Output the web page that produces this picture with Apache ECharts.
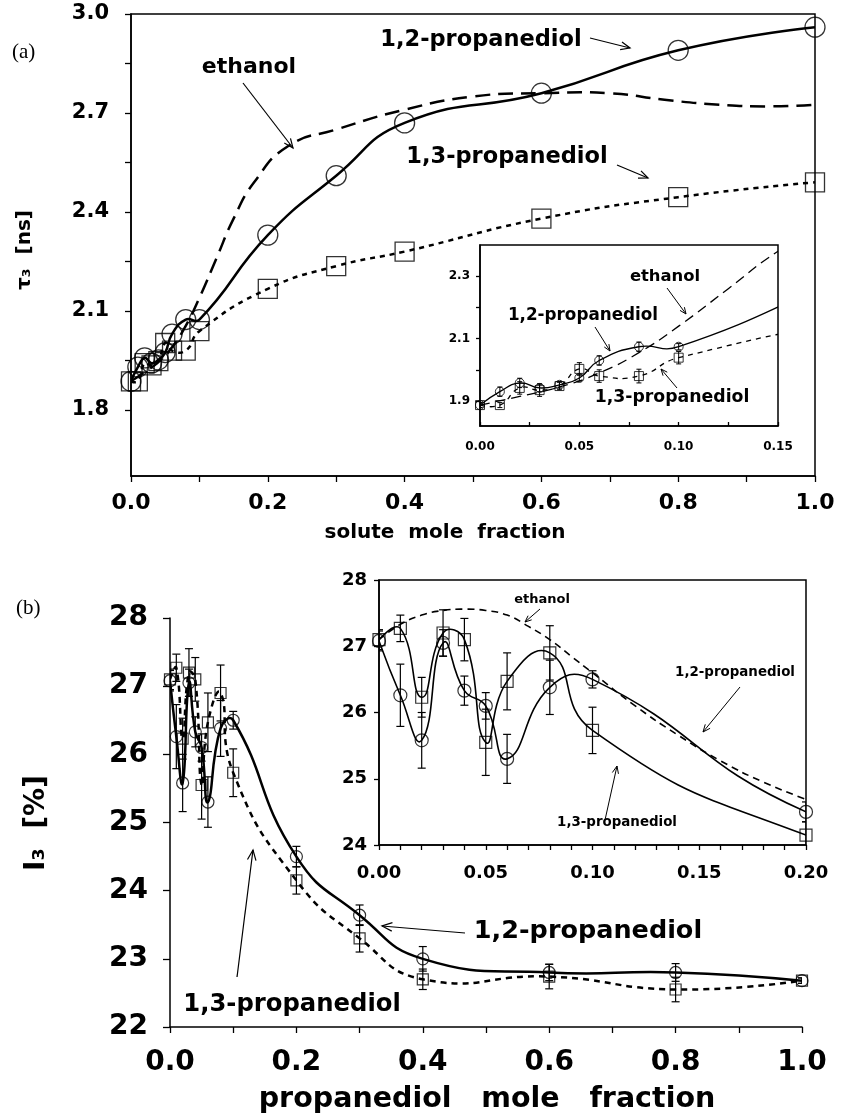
<!DOCTYPE html>
<html>
<head>
<meta charset="utf-8">
<title>tau3 / I3 vs mole fraction</title>
<script src="https://cdn.jsdelivr.net/npm/echarts@6/dist/echarts.min.js"></script>
<style>
  html, body { margin: 0; padding: 0; background: #fff; }
  #main { width: 841px; height: 1120px; }
</style>
</head>
<body>
<div id="main"></div>
<script>
// ---- panel (a): tau3 [ns] ----
var xMol = [0, 0.01, 0.02, 0.03, 0.04, 0.05, 0.06, 0.08, 0.1, 0.2, 0.3, 0.4, 0.6, 0.8, 1.0];
var tau12 = [1.887, 1.93, 1.958, 1.942, 1.952, 1.974, 2.03, 2.074, 2.074, 2.33, 2.51, 2.67, 2.76, 2.89, 2.96];
var tau13 = [1.887, 1.887, 1.942, 1.935, 1.948, 2.003, 1.98, 1.98, 2.039, 2.167, 2.236, 2.28, 2.38, 2.445, 2.49];
var tauErr12 = [0.008, 0.015, 0.015, 0.012, 0.01, 0.01, 0.015, 0.015, 0.01, 0.012, 0.012, 0.012, 0.012, 0.012, 0.012];
var tauErr13 = [0.008, 0.008, 0.02, 0.02, 0.012, 0.02, 0.02, 0.022, 0.02, 0.012, 0.012, 0.012, 0.012, 0.012, 0.012];
var xEthA = [0, 0.02, 0.04, 0.06, 0.08, 0.1, 0.125, 0.15, 0.18, 0.23, 0.3, 0.4, 0.5, 0.6, 0.7, 0.78, 0.86, 0.93, 1.0];
var tauEth = [1.887, 1.915, 1.945, 1.99, 2.055, 2.14, 2.26, 2.38, 2.49, 2.6, 2.65, 2.71, 2.75, 2.76, 2.76, 2.74, 2.725, 2.72, 2.725];

// ---- panel (b): I3 [%] ----
var I12 = [27.08, 26.26, 25.58, 27.05, 26.33, 26.1, 25.3, 26.38, 26.5, 24.5, 23.64, 23.0, 22.8, 22.8, 22.68];
var I13 = [27.1, 27.27, 26.23, 27.2, 27.1, 25.55, 26.47, 26.9, 25.73, 24.15, 23.3, 22.7, 22.74, 22.55, 22.68];
var IErr12 = [0.15, 0.47, 0.42, 0.2, 0.22, 0.2, 0.37, 0.41, 0.13, 0.15, 0.15, 0.18, 0.12, 0.13, 0.04];
var IErr13 = [0.15, 0.2, 0.3, 0.35, 0.32, 0.5, 0.43, 0.41, 0.35, 0.2, 0.2, 0.15, 0.18, 0.18, 0.04];
var xEthB = [0, 0.01, 0.02, 0.03, 0.04, 0.05, 0.06, 0.07, 0.08, 0.09, 0.1, 0.12, 0.14, 0.16, 0.18, 0.2];
var IEth = [27.1, 27.33, 27.47, 27.54, 27.56, 27.54, 27.47, 27.3, 27.1, 26.85, 26.6, 26.1, 25.66, 25.27, 24.95, 24.69];

// ---- ticks / labels ----
var tickA_x = [0, 0.1, 0.2, 0.3, 0.4, 0.5, 0.6, 0.7, 0.8, 0.9, 1.0];
var labA_x = [0, 0.2, 0.4, 0.6, 0.8, 1.0];
var tickA_y = [1.8, 1.95, 2.1, 2.25, 2.4, 2.55, 2.7, 2.85, 3.0];
var labA_y = [1.8, 2.1, 2.4, 2.7, 3.0];
var tickAi_x = [0, 0.025, 0.05, 0.075, 0.1, 0.125, 0.15];
var labAi_x = [0, 0.05, 0.1, 0.15];
var tickAi_y = [1.9, 2.0, 2.1, 2.2, 2.3];
var labAi_y = [1.9, 2.1, 2.3];
var labB_y = [22, 23, 24, 25, 26, 27, 28];
var tickBi_x = [0, 0.01, 0.02, 0.03, 0.04, 0.05, 0.06, 0.07, 0.08, 0.09, 0.1, 0.11, 0.12, 0.13, 0.14, 0.15, 0.16, 0.17, 0.18, 0.19, 0.2];
var labBi_x = [0, 0.05, 0.1, 0.15, 0.2];
var labBi_y = [24, 25, 26, 27, 28];

var FONT = 'DejaVu Sans';

function pairs(xs, ys) {
  return xs.map(function (x, i) { return [x, ys[i]]; });
}

// smooth curve through the points, built in pixel space from the axes
function spline(xs, ys, idx, dash, w) {
  return {
    type: 'custom', xAxisIndex: idx, yAxisIndex: idx, silent: true, clip: true, z: 4,
    data: pairs(xs, ys),
    encode: { x: 0, y: 1 },
    renderItem: function (params, api) {
      if (params.dataIndex !== 0) return null;
      var p = xs.map(function (x, i) { return api.coord([x, ys[i]]); });
      var n = p.length, s = 0.5;
      var cn = [], cp = [];
      for (var i = 0; i < n; i++) {
        if (i === 0 || i === n - 1) { cn.push(p[i]); cp.push(p[i]); continue; }
        var vx = p[i + 1][0] - p[i - 1][0], vy = p[i + 1][1] - p[i - 1][1];
        var lp = Math.hypot(p[i][0] - p[i - 1][0], p[i][1] - p[i - 1][1]);
        var ln = Math.hypot(p[i + 1][0] - p[i][0], p[i + 1][1] - p[i][1]);
        var rn = ln / (lp + ln), rp = lp / (lp + ln);
        cn.push([p[i][0] + vx * s * rn, p[i][1] + vy * s * rn]);
        cp.push([p[i][0] - vx * s * rp, p[i][1] - vy * s * rp]);
      }
      var d = 'M' + p[0][0] + ' ' + p[0][1];
      for (var j = 0; j < n - 1; j++) {
        d += ' C' + cn[j][0] + ' ' + cn[j][1] + ' ' + cp[j + 1][0] + ' ' + cp[j + 1][1] + ' ' + p[j + 1][0] + ' ' + p[j + 1][1];
      }
      return { type: 'path', shape: { pathData: d },
        style: { stroke: '#000', lineWidth: w, fill: null, lineDash: dash === 'solid' ? null : dash } };
    }
  };
}

function marks(xs, ys, idx, sym, size, bw) {
  return {
    type: 'scatter', xAxisIndex: idx, yAxisIndex: idx, data: pairs(xs, ys), clip: true, z: 5,
    symbol: sym, symbolSize: size, silent: true,
    itemStyle: { color: 'rgba(0,0,0,0)', borderColor: '#000', borderWidth: bw },
    emphasis: { disabled: true }
  };
}

function errBars(xs, ys, es, idx, cap, w) {
  return {
    type: 'custom', xAxisIndex: idx, yAxisIndex: idx, silent: true, z: 3, clip: true,
    data: xs.map(function (x, i) { return [x, ys[i] - es[i], ys[i] + es[i]]; }),
    encode: { x: 0, y: [1, 2] },
    renderItem: function (params, api) {
      var lo = api.coord([api.value(0), api.value(1)]);
      var hi = api.coord([api.value(0), api.value(2)]);
      var st = { stroke: '#000', lineWidth: w, fill: null };
      return { type: 'group', children: [
        { type: 'line', shape: { x1: lo[0], y1: lo[1], x2: hi[0], y2: hi[1] }, style: st },
        { type: 'line', shape: { x1: lo[0] - cap, y1: lo[1], x2: lo[0] + cap, y2: lo[1] }, style: st },
        { type: 'line', shape: { x1: hi[0] - cap, y1: hi[1], x2: hi[0] + cap, y2: hi[1] }, style: st }
      ]};
    }
  };
}

function axis(idx, min, max, ticks, labs, digits, fs, margin, tickLen, inside) {
  return {
    type: 'value', gridIndex: idx, min: min, max: max,
    splitLine: { show: false },
    axisLine: { lineStyle: { color: '#000', width: 1.5 } },
    axisTick: { customValues: ticks, length: tickLen, inside: !!inside, lineStyle: { color: '#000', width: 1.3 } },
    axisLabel: { customValues: labs, margin: margin, color: '#000', fontFamily: FONT, fontWeight: 'bold', fontSize: fs,
      formatter: function (v) { return v.toFixed(digits); } }
  };
}

var option = {
  backgroundColor: '#fff',
  animation: false,
  grid: [
    { left: 131, top: 14, width: 684, height: 462, show: true, borderColor: '#000', borderWidth: 1.5, backgroundColor: '#fff' },
    { left: 480, top: 245, width: 298, height: 181, show: true, borderColor: '#000', borderWidth: 1.5, backgroundColor: '#fff' },
    { left: 170, top: 618, width: 632, height: 409 },
    { left: 379, top: 580, width: 427, height: 265, show: true, borderColor: '#000', borderWidth: 1.5, backgroundColor: '#fff' }
  ],
  xAxis: [
    axis(0, 0, 1, tickA_x, labA_x, 1, 22, 16, 6),
    axis(1, 0, 0.15, tickAi_x, labAi_x, 2, 12, 15, 4, true),
    axis(2, 0, 1, tickA_x, labA_x, 1, 28, 22, 6),
    axis(3, 0, 0.2, tickBi_x, labBi_x, 2, 18, 19, 5)
  ],
  yAxis: [
    axis(0, 1.6, 3.0, tickA_y, labA_y, 1, 21, 22, 6),
    axis(1, 1.82, 2.40, tickAi_y, labAi_y, 1, 12, 10, 4),
    axis(2, 22, 28, labB_y, labB_y, 0, 28, 22, 7),
    axis(3, 24, 28, labBi_y, labBi_y, 0, 18, 12, 5)
  ],
  series: [
    // (a) main
    spline(xEthA, tauEth, 0, [15, 8], 2.5),
    spline(xMol, tau12, 0, 'solid', 2.5),
    spline(xMol, tau13, 0, [5, 5], 2.5),
    marks(xMol, tau12, 0, 'circle', 20, 1.3),
    marks(xMol, tau13, 0, 'rect', 19, 1.3),
    // (a) inset
    spline(xEthA, tauEth, 1, [10, 6], 1.3),
    spline(xMol, tau12, 1, 'solid', 1.3),
    spline(xMol, tau13, 1, [5, 5], 1.3),
    marks(xMol, tau12, 1, 'circle', 9, 1),
    marks(xMol, tau13, 1, 'rect', 9, 1),
    errBars(xMol, tau12, tauErr12, 1, 2.5, 1),
    errBars(xMol, tau13, tauErr13, 1, 2.5, 1),
    // (b) main
    spline(xMol, I12, 2, 'solid', 2.5),
    spline(xMol, I13, 2, [6, 5], 2.5),
    marks(xMol, I12, 2, 'circle', 12, 1.2),
    marks(xMol, I13, 2, 'rect', 11, 1.2),
    errBars(xMol, I12, IErr12, 2, 4, 1.2),
    errBars(xMol, I13, IErr13, 2, 4, 1.2),
    // (b) inset
    spline(xEthB, IEth, 3, [7, 5], 1.6),
    spline(xMol, I12, 3, 'solid', 1.6),
    spline(xMol, I13, 3, 'solid', 1.6),
    marks(xMol, I12, 3, 'circle', 13, 1.2),
    marks(xMol, I13, 3, 'rect', 12, 1.2),
    errBars(xMol, I12, IErr12, 3, 4, 1.2),
    errBars(xMol, I13, IErr13, 3, 4, 1.2)
  ]
};

// annotation helpers (page pixels)
function txt(s, x, y, fs, extra) {
  var t = { type: 'text', x: x, y: y, z: 100,
    style: { text: s, fill: '#000', font: 'bold ' + fs + 'px "' + FONT + '"', align: 'center', verticalAlign: 'middle' } };
  if (extra) for (var k in extra) t[k] = extra[k];
  return t;
}
function arrow(x1, y1, x2, y2, w, head) {
  var a = Math.atan2(y2 - y1, x2 - x1), h = head || 9, s = 0.4;
  return [
    { type: 'line', z: 100, shape: { x1: x1, y1: y1, x2: x2, y2: y2 }, style: { stroke: '#000', lineWidth: w } },
    { type: 'polyline', z: 100, shape: { points: [
      [x2 - h * Math.cos(a - s), y2 - h * Math.sin(a - s)], [x2, y2],
      [x2 - h * Math.cos(a + s), y2 - h * Math.sin(a + s)]] },
      style: { stroke: '#000', lineWidth: w, fill: null } }
  ];
}

var g = [];
g.push({ type: 'text', x: 12, y: 52, z: 100, style: { text: '(a)', fill: '#000', font: '21px "Liberation Serif"', verticalAlign: 'middle' } });
g.push({ type: 'text', x: 16, y: 608, z: 100, style: { text: '(b)', fill: '#000', font: '21px "Liberation Serif"', verticalAlign: 'middle' } });
g.push(txt('τ₃  [ns]', 25, 250, 20, { rotation: Math.PI / 2 }));
g.push(txt('solute  mole  fraction', 445, 533, 20));
g.push(txt('I₃  [%]', 37, 823, 28, { rotation: Math.PI / 2 }));
g.push(txt('propanediol   mole   fraction', 487, 1100, 28.5));

g.push(txt('ethanol', 249, 67, 22));
g.push(txt('1,2-propanediol', 481, 40, 22.5));
g.push(txt('1,3-propanediol', 507, 157, 22.5));
g = g.concat(arrow(243, 83, 293, 148, 1.2, 10));
g = g.concat(arrow(590, 38, 630, 48, 1.2, 10));
g = g.concat(arrow(617, 165, 648, 178, 1.2, 10));

g.push(txt('ethanol', 665, 277, 16.4));
g.push(txt('1,2-propanediol', 583, 316, 16.8));
g.push(txt('1,3-propanediol', 672, 398, 17.3));
g = g.concat(arrow(667, 288, 686, 314, 1, 7));
g = g.concat(arrow(595, 327, 610, 351, 1, 7));
g = g.concat(arrow(677, 388, 661, 369, 1, 7));

g.push(txt('1,2-propanediol', 588, 931, 25.5));
g.push(txt('1,3-propanediol', 292, 1005, 24.3));
g = g.concat(arrow(465, 933, 382, 926, 1.2, 11));
g = g.concat(arrow(237, 977, 253, 850, 1.2, 11));

g.push(txt('ethanol', 542, 600, 13));
g.push(txt('1,2-propanediol', 735, 673, 13.4));
g.push(txt('1,3-propanediol', 617, 823, 13.4));
g = g.concat(arrow(540, 609, 525, 622, 1, 7));
g = g.concat(arrow(740, 687, 703, 732, 1, 8));
g = g.concat(arrow(605, 820, 617, 766, 1, 8));

option.graphic = g;

var chart = echarts.init(document.getElementById('main'));
chart.setOption(option);
</script>
</body>
</html>
